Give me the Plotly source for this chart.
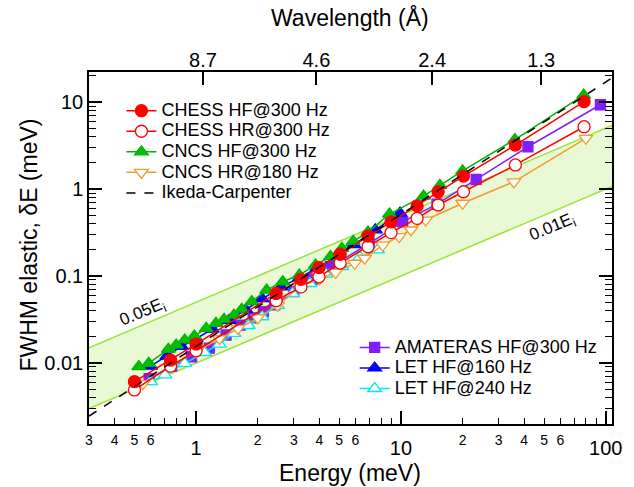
import math
import plotly.graph_objects as go

# ---------------- data ----------------
chess_E = [0.5, 0.75, 1.0, 2.46, 3.25, 3.98, 5.05, 6.91, 8.95, 12.0, 15.2, 20.2, 36.2, 78.4]
chess_hf = [0.0061, 0.0108, 0.0165, 0.063, 0.0915, 0.125, 0.178, 0.288, 0.42, 0.64, 0.93, 1.41, 3.2, 10.1]
chess_hr = [0.0049, 0.0092, 0.0138, 0.052, 0.075, 0.098, 0.141, 0.217, 0.315, 0.46, 0.655, 0.93, 1.89, 5.2]

cncs_hf_E = [0.525, 0.587, 0.732, 0.80, 0.88, 0.98, 1.12, 1.25, 1.37, 1.53, 1.67, 1.87, 2.21,
             2.65, 3.19, 3.83, 4.53, 5.15, 5.85, 6.9, 8.8, 12.9, 15.5, 20.0, 36.0, 78.0]
cncs_hf = [0.0091, 0.0099, 0.0144, 0.0161, 0.0184, 0.0204, 0.025, 0.0286, 0.0318, 0.0356, 0.0414,
           0.0507, 0.069, 0.0859, 0.1026, 0.134, 0.167, 0.208, 0.25, 0.32, 0.516, 0.83, 1.1, 1.62, 3.7, 12.0]

cncs_hr_E = [0.55, 0.75, 1.0, 1.3, 1.6, 2.0, 2.5, 3.2, 4.0, 4.8, 5.95, 6.65, 8.15, 9.8, 11.2, 13.2, 20.0, 35.6, 80.0]
cncs_hr = [0.0058, 0.0092, 0.0135, 0.019, 0.025, 0.033, 0.046, 0.075, 0.092, 0.11, 0.14, 0.16, 0.227,
           0.283, 0.338, 0.44, 0.686, 1.21, 3.83]

amateras_E = [0.59, 0.76, 0.95, 1.16, 1.4, 1.64, 1.9, 2.13, 2.42, 3.0, 3.7, 4.53, 7.0, 10.2, 15.0, 23.3, 41.7, 94.2]
amateras = [0.0066, 0.0092, 0.0118, 0.0148, 0.021, 0.0273, 0.033, 0.039, 0.0465, 0.066, 0.092, 0.128,
            0.235, 0.42, 0.67, 1.29, 3.06, 9.3]

let160_E = [0.6, 0.72, 0.85, 1.0, 1.2, 1.45, 1.75, 2.1, 2.6, 3.2, 3.9, 4.8, 5.9, 7.5, 9.9]
let160 = [0.0092, 0.0120, 0.0155, 0.019, 0.0245, 0.031, 0.041, 0.055, 0.075, 0.095, 0.125, 0.165, 0.23, 0.34, 0.53]

let240_E = [0.6, 0.705, 0.88, 1.1, 1.3, 1.53, 1.8, 2.1, 2.5, 2.96, 3.6, 4.3, 5.15, 6.3, 7.7]
let240 = [0.0061, 0.0073, 0.0099, 0.0132, 0.0165, 0.0219, 0.027, 0.034, 0.046, 0.063, 0.082, 0.105, 0.128, 0.165, 0.2]

ic_E = [0.3, 1.0, 10.0, 107.0]
ic_dE = [0.00245, 0.0155, 0.51, 18.8]

band_E = [0.3, 107.3]
band_lo_frac = 0.01
band_hi_frac = 0.05

wavelength_ticks = [8.7, 4.6, 2.4, 1.3]
x_major = [1, 10, 100]
x_small = [0.3, 0.4, 0.5, 0.6, 2, 3, 4, 5, 6, 20, 30, 40, 50, 60]
x_small_text = ["3", "4", "5", "6", "2", "3", "4", "5", "6", "2", "3", "4", "5", "6"]
y_major = [0.01, 0.1, 1, 10]
y_major_text = ["0.01", "0.1", "1", "10"]

# ---------------- styling ----------------
FONT = "Liberation Sans, Arial, sans-serif"
LIME = "#9be436"
FILL = "#e9f9d6"
XR = [math.log10(0.3), math.log10(107.3)]
YR = [-2.701, 1.345]
LEG_PX = 18

fig = go.Figure()

fig.add_trace(go.Scatter(x=band_E, y=[band_lo_frac * e for e in band_E], mode="lines",
                         line=dict(color=LIME, width=1.5), showlegend=False, hoverinfo="skip"))
fig.add_trace(go.Scatter(x=band_E, y=[band_hi_frac * e for e in band_E], mode="lines",
                         fill="tonexty", fillcolor=FILL,
                         line=dict(color=LIME, width=1.5), showlegend=False, hoverinfo="skip"))


def lname(s):
    return f"<span style='font-size:{LEG_PX}px'>{s}</span>"


def series(x, y, name, color, symbol, fill, legend, rank, size=12):
    fig.add_trace(go.Scatter(
        x=x, y=y, name=lname(name), mode="lines+markers", legend=legend, legendrank=rank,
        line=dict(color=color, width=1.5),
        marker=dict(symbol=symbol, size=size, color=fill, line=dict(color=color, width=1.3)),
    ))


series(amateras_E, amateras, "AMATERAS HF@300 Hz", "#7f1fff", "square", "#7f1fff", "legend2", 6, 10)
series(let240_E, let240, "LET HF@240 Hz", "#00e8f0", "triangle-up", "white", "legend2", 8)
series(let160_E, let160, "LET HF@160 Hz", "#0000ff", "triangle-up", "#0000ff", "legend2", 7)
series(cncs_hr_E, cncs_hr, "CNCS HR@180 Hz", "#f39a2a", "triangle-down", "white", "legend", 4)
series(cncs_hf_E, cncs_hf, "CNCS HF@300 Hz", "#00b400", "triangle-up", "#00c000", "legend", 3)
series(chess_E, chess_hr, "CHESS HR@300 Hz", "#ff0000", "circle", "white", "legend", 2)
series(chess_E, chess_hf, "CHESS HF@300 Hz", "#ff0000", "circle", "#ff0000", "legend", 1)

fig.add_trace(go.Scatter(x=ic_E, y=ic_dE, name=lname("Ikeda-Carpenter"), mode="lines", legend="legend",
                         legendrank=5, line=dict(color="black", width=1.5, dash="dash")))

# invisible traces to anchor the extra axes
fig.add_trace(go.Scatter(x=[1], y=[1], xaxis="x2", mode="markers", marker=dict(opacity=0),
                         showlegend=False, hoverinfo="skip"))
fig.add_trace(go.Scatter(x=[1], y=[1], xaxis="x3", mode="markers", marker=dict(opacity=0),
                         showlegend=False, hoverinfo="skip"))

minor_x = [m * 10 ** d for d in (-1, 0, 1) for m in range(2, 10) if 0.3 <= m * 10 ** d <= 107]
minor_y = [m * 10 ** d for d in (-3, -2, -1, 0, 1) for m in range(2, 10)
           if 10 ** YR[0] <= m * 10 ** d <= 10 ** YR[1]]

legend_common = dict(xanchor="left", yanchor="top", bgcolor="rgba(0,0,0,0)",
                     font=dict(size=13.5), tracegroupgap=0, itemwidth=30, traceorder="normal")

fig.update_layout(
    width=634, height=487,
    margin=dict(l=89, r=12, t=72, b=63),
    paper_bgcolor="white", plot_bgcolor="white",
    font=dict(family=FONT, color="black"),
    showlegend=True,
    xaxis=dict(type="log", range=XR, showgrid=False, zeroline=False,
               showline=True, linecolor="black", linewidth=1.5, mirror=True,
               ticks="inside", ticklen=13, tickwidth=1.5, tickcolor="black",
               tickvals=x_major, ticktext=[str(v) for v in x_major],
               tickfont=dict(size=20), ticklabelstandoff=5,
               minor=dict(tickvals=minor_x, ticks="inside", ticklen=6, tickwidth=1.3,
                          tickcolor="black", showgrid=False)),
    xaxis3=dict(type="log", range=XR, overlaying="x", anchor="y", side="bottom",
                showgrid=False, zeroline=False, showline=False, ticks="",
                tickvals=x_small, ticktext=x_small_text,
                tickfont=dict(size=14), ticklabelstandoff=6),
    xaxis2=dict(type="log", range=XR, overlaying="x", anchor="y", side="top",
                showgrid=False, zeroline=False, showline=False,
                ticks="inside", ticklen=13, tickwidth=1.5, tickcolor="black",
                tickvals=[81.804 / w ** 2 for w in wavelength_ticks],
                ticktext=[str(w) for w in wavelength_ticks],
                tickfont=dict(size=20)),
    yaxis=dict(type="log", range=YR, showgrid=False, zeroline=False,
               showline=True, linecolor="black", linewidth=1.5, mirror="ticks",
               ticks="inside", ticklen=13, tickwidth=1.5, tickcolor="black",
               tickvals=y_major, ticktext=y_major_text,
               tickfont=dict(size=20),
               minor=dict(tickvals=minor_y, ticks="inside", ticklen=7, tickwidth=1.3,
                          tickcolor="black", showgrid=False)),
    legend=dict(x=0.062, y=0.9335, **legend_common),
    legend2=dict(x=0.508, y=0.261, **legend_common),
    annotations=[
        dict(x=-0.26, y=-1.42, xref="x", yref="y", text="0.05E<sub>i</sub>", showarrow=False,
             textangle=-22.6, font=dict(size=17)),
        dict(x=1.739, y=-0.448, xref="x", yref="y", text="0.01E<sub>i</sub>", showarrow=False,
             textangle=-22.6, font=dict(size=17)),
        dict(x=0.4986, y=1.156, xref="paper", yref="paper", text="Wavelength (Å)", showarrow=False,
             xanchor="center", yanchor="middle", font=dict(size=23)),
        dict(x=0.4986, y=-0.138, xref="paper", yref="paper", text="Energy (meV)", showarrow=False,
             xanchor="center", yanchor="middle", font=dict(size=23)),
        dict(x=-0.114, y=0.508, xref="paper", yref="paper", text="FWHM elastic, δE (meV)",
             showarrow=False, textangle=-90, xanchor="center", yanchor="middle", font=dict(size=23)),
    ],
)

fig.write_html("out.html")
